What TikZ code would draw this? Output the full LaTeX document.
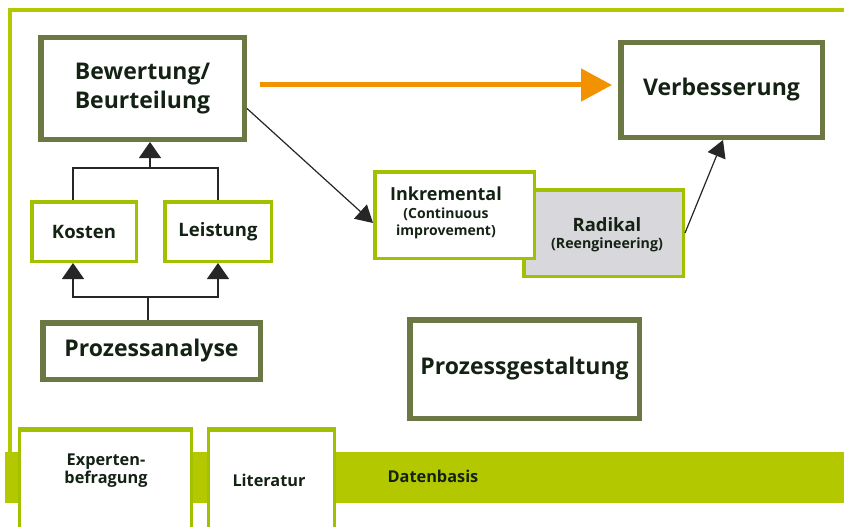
\documentclass[tikz,border=0pt]{standalone}
\usepackage{fontspec}
\setmainfont{Open Sans}
\usetikzlibrary{arrows.meta}
\definecolor{cBar}{RGB}{180,200,0}
\definecolor{cLine}{RGB}{160,192,0}
\definecolor{cOlive}{RGB}{108,120,68}
\definecolor{cOrange}{RGB}{243,146,0}
\definecolor{cGray}{RGB}{216,216,220}
\definecolor{cText}{RGB}{20,34,20}
\tikzset{
  darkbox/.style={draw=cOlive, line width=5.5pt, fill=white, text=cText, align=center, inner sep=0pt},
  greenbox/.style={draw=cLine, line width=3.5pt, fill=white, text=cText, align=center, inner sep=0pt},
  bigtxt/.style={font=\bfseries\fontsize{23}{29}\selectfont},
  midtxt/.style={font=\bfseries\fontsize{18.5}{22}\selectfont},
  smalltxt/.style={font=\bfseries\fontsize{16.3}{19}\selectfont, text=cText, align=center},
  conn/.style={draw=black!85, line width=1.3pt},
  arr/.style={conn, -{Triangle[length=16pt,width=22pt]}},
  orangearr/.style={draw=cOrange, line width=5pt, -{Triangle[length=31pt,width=32pt]}}
}
\begin{document}
\begin{tikzpicture}[x=1pt,y=-1pt]
\useasboundingbox (0,0) rectangle (844,527);
\fill[white] (0,0) rectangle (844,527);
% frame
\draw[cBar, line width=4pt] (10,455) -- (10,10) -- (846,10);
% bar
\fill[cBar] (5,452) rectangle (844,503);
\node[smalltxt] (daten) at (433,476) {Datenbasis};
% bottom boxes
\node[greenbox, line width=3pt, minimum width=172pt, minimum height=107pt] (exp) at (105.5,484) {};
\draw[cLine, line width=5pt] (exp.north west) -- (exp.north east);
\node[smalltxt, font=\bfseries\fontsize{16.3}{18}\selectfont] (expt) at (106,471) {Experten-\\befragung};
\node[greenbox, line width=3pt, minimum width=126pt, minimum height=107pt] (lit) at (271.5,484) {};
\draw[cLine, line width=5pt] (lit.north west) -- (lit.north east);
\node[smalltxt] (litt) at (269,480) {Literatur};
% main boxes
\node[darkbox, bigtxt, minimum width=203.5pt, minimum height=101.5pt] (bew) at (142.5,88.5) {Bewertung/\\Beurteilung};
\node[darkbox, bigtxt, minimum width=201.5pt, minimum height=94.5pt] (verb) at (721.5,90) {Verbesserung};
\node[greenbox, midtxt, minimum width=104.5pt, minimum height=59.5pt] (kosten) at (84,231.5) {Kosten};
\node[greenbox, midtxt, minimum width=106.5pt, minimum height=59.5pt] (leist) at (218,231.5) {Leistung};
\node[darkbox, bigtxt, minimum width=217.5pt, minimum height=56.5pt] (prozana) at (151.5,351) {Prozessanalyse};
\node[darkbox, bigtxt, minimum width=229.5pt, minimum height=98.5pt] (prozgest) at (524.5,369) {Prozessgestaltung};
\node[greenbox, fill=cGray, minimum width=159.5pt, minimum height=86.5pt] (rad) at (603.5,233) {};
\node[font=\bfseries\fontsize{18.4}{21}\selectfont, text=cText, align=center] (radt) at (607,225) {Radikal};
\node[font=\bfseries\fontsize{14.2}{16}\selectfont, text=cText, align=center] (radt2) at (607,245) {(Reengineering)};
\node[greenbox, minimum width=159.5pt, minimum height=86.5pt] (ink) at (454.5,215) {};
\node[font=\bfseries\fontsize{18}{21}\selectfont, text=cText, align=center] (inkt) at (446,194) {Inkremental};
\node[font=\bfseries\fontsize{14}{17}\selectfont, text=cText, align=center] (inkt2) at (446,223) {(Continuous\\improvement)};
% connectors
\coordinate (j1) at (150,168);
\coordinate (j2) at (148,297);
\draw[conn] ([xshift=-11pt]kosten.north) |- (j1) -| (leist.north);
\draw[arr] (j1) -- (j1 |- bew.south);
\draw[conn] (j2 |- prozana.north) -- (j2);
\draw[arr] (j2) -| ([xshift=-11pt]kosten.south);
\draw[arr] (j2) -| (leist.south);
\draw[conn, line width=1.2pt, -{Triangle[length=17pt,width=19pt]}] ([yshift=-20pt]bew.east) -- ([yshift=-8pt]ink.west);
\draw[conn, line width=1.2pt, -{Triangle[length=17pt,width=19pt]}] (rad.east) -- ([xshift=1.5pt]verb.south);
\draw[orangearr] ([xshift=13pt,yshift=3.5pt]bew.east) -- ([xshift=-6pt,yshift=5pt]verb.west);
\end{tikzpicture}
\end{document}
